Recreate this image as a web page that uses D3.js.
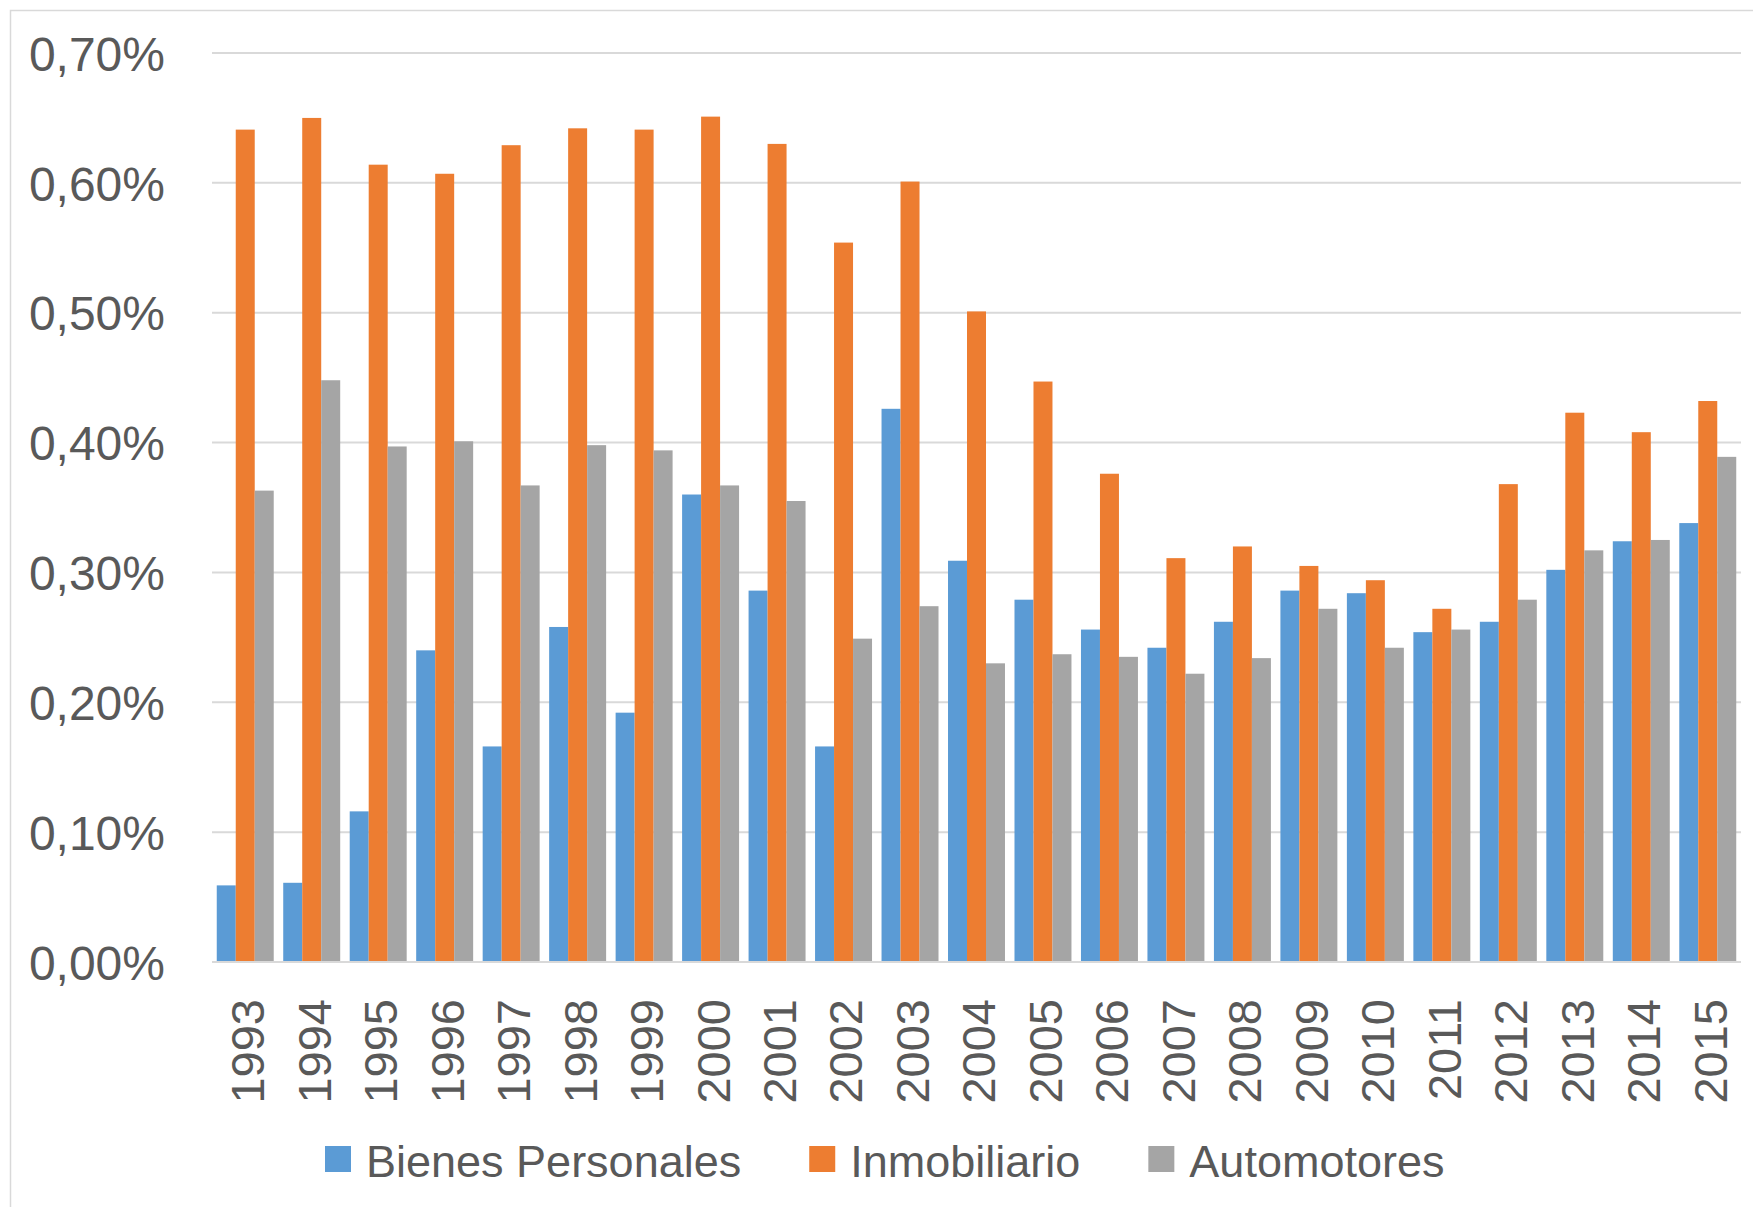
<!DOCTYPE html>
<html>
<head>
<meta charset="utf-8">
<script src="https://cdn.jsdelivr.net/npm/d3@7"></script>
<style>
  body { margin: 0; background: #fff; }
  text { font-family: "Liberation Sans", Arial, sans-serif; fill: #595959; }
</style>
</head>
<body>
<div id="chart"></div>
<script>
// categories
var years = ["1993", "1994", "1995", "1996", "1997", "1998", "1999", "2000", "2001", "2002", "2003",
  "2004", "2005", "2006", "2007", "2008", "2009", "2010", "2011", "2012", "2013", "2014", "2015"];

// series values (in %)
var bienesPersonales = [0.059, 0.061, 0.116, 0.240, 0.166, 0.258, 0.192, 0.360, 0.286, 0.166, 0.426,
  0.309, 0.279, 0.256, 0.242, 0.262, 0.286, 0.284, 0.254, 0.262, 0.302, 0.324, 0.338];
var inmobiliario = [0.641, 0.650, 0.614, 0.607, 0.629, 0.642, 0.641, 0.651, 0.630, 0.554, 0.601,
  0.501, 0.447, 0.376, 0.311, 0.320, 0.305, 0.294, 0.272, 0.368, 0.423, 0.408, 0.432];
var automotores = [0.363, 0.448, 0.397, 0.401, 0.367, 0.398, 0.394, 0.367, 0.355, 0.249, 0.274,
  0.230, 0.237, 0.235, 0.222, 0.234, 0.272, 0.242, 0.256, 0.279, 0.317, 0.325, 0.389];

// tick values
var yTicks = [0, 0.1, 0.2, 0.3, 0.4, 0.5, 0.6, 0.7];

var seriesNames = ["Bienes Personales", "Inmobiliario", "Automotores"];
var seriesColors = ["#5B9BD5", "#ED7D31", "#A5A5A5"];
var seriesData = [bienesPersonales, inmobiliario, automotores];

var width = 1753;
var height = 1207;

// plot area
var plotLeft = 212, plotRight = 1741, plotTop = 53, plotBottom = 962;

var svg = d3.select("#chart").append("svg")
  .attr("width", width)
  .attr("height", height);

// chart border (only top/left visible in the crop)
svg.append("rect")
  .attr("x", 10.5).attr("y", 10.5)
  .attr("width", width + 20).attr("height", height + 20)
  .attr("fill", "none")
  .attr("stroke", "#d9d9d9")
  .attr("stroke-width", 1.5);

var x = d3.scaleBand()
  .domain(years)
  .range([plotLeft, plotRight])
  .paddingInner(0.143)
  .paddingOuter(0.0715);

var xSub = d3.scaleBand()
  .domain(d3.range(seriesNames.length))
  .range([0, x.bandwidth()]);

var y = d3.scaleLinear()
  .domain([0, 0.7])
  .range([plotBottom, plotTop]);

// gridlines
svg.append("g")
  .selectAll("line")
  .data(yTicks)
  .enter()
  .append("line")
  .attr("x1", plotLeft)
  .attr("x2", plotRight)
  .attr("y1", function(d) { return y(d); })
  .attr("y2", function(d) { return y(d); })
  .attr("stroke", "#d9d9d9")
  .attr("stroke-width", 2);

// y axis labels
var yAxis = d3.axisLeft(y)
  .tickValues(yTicks)
  .tickSize(0)
  .tickPadding(0)
  .tickFormat(function(d) { return d.toFixed(2).replace(".", ",") + "%"; });

var yG = svg.append("g")
  .attr("transform", "translate(165,0)")
  .call(yAxis);
yG.select(".domain").remove();
yG.selectAll("text")
  .attr("font-size", 48)
  .attr("dy", "0.36em")
  .style("font-family", "'Liberation Sans', Arial, sans-serif")
  .attr("fill", "#595959");

// bars
var groups = svg.append("g")
  .selectAll("g")
  .data(years)
  .enter()
  .append("g")
  .attr("transform", function(d) { return "translate(" + x(d) + ",0)"; });

groups.selectAll("rect")
  .data(function(d, i) {
    return seriesData.map(function(s, k) { return { k: k, v: s[i] }; });
  })
  .enter()
  .append("rect")
  .attr("x", function(d) { return xSub(d.k); })
  .attr("width", xSub.bandwidth())
  .attr("y", function(d) { return y(d.v); })
  .attr("height", function(d) { return y(0) - y(d.v); })
  .attr("fill", function(d) { return seriesColors[d.k]; });

// x axis line
svg.append("line")
  .attr("x1", plotLeft).attr("x2", plotRight)
  .attr("y1", plotBottom).attr("y2", plotBottom)
  .attr("stroke", "#d9d9d9")
  .attr("stroke-width", 2);

// x axis labels, rotated
var xAxis = d3.axisBottom(x).tickSize(0).tickPadding(0);
var xG = svg.append("g")
  .attr("transform", "translate(0," + plotBottom + ")")
  .call(xAxis);
xG.select(".domain").remove();
xG.selectAll("text")
  .attr("font-size", 47)
  .style("font-family", "'Liberation Sans', Arial, sans-serif")
  .attr("fill", "#595959")
  .attr("text-anchor", "end")
  .attr("transform", "translate(2,37) rotate(-90)")
  .attr("x", 0)
  .attr("y", 0)
  .attr("dy", "0.36em");

// legend
var legend = svg.append("g");
var lx = 325;
seriesNames.forEach(function(name, i) {
  legend.append("rect")
    .attr("x", lx).attr("y", 1146)
    .attr("width", 26).attr("height", 26)
    .attr("fill", seriesColors[i]);
  var t = legend.append("text")
    .attr("x", lx + 41)
    .attr("y", 1177)
    .attr("font-size", 45)
    .text(name);
  lx = lx + 41 + t.node().getComputedTextLength() + 68;
});
</script>
</body>
</html>
